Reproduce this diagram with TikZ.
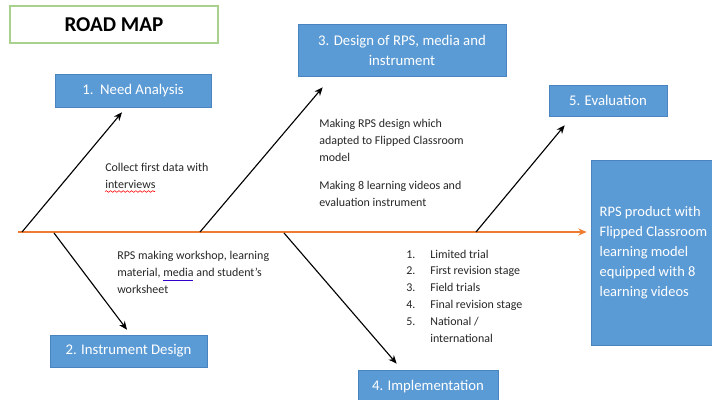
\documentclass[tikz,border=0pt]{standalone}
\usepackage{fontspec}
\setmainfont{Carlito}
\usetikzlibrary{positioning,calc,arrows.meta,decorations.pathmorphing}
\definecolor{boxblue}{HTML}{5B9BD5}
\definecolor{boxedge}{HTML}{4A84BF}
\definecolor{spineorange}{HTML}{ED7D31}
\definecolor{titlegreen}{HTML}{A9D18E}

\begin{document}
\begin{tikzpicture}[x=0.025cm, y=-0.025cm,
    stage/.style={draw=boxedge, line width=0.4pt, fill=boxblue, text=white,
      font=\fontsize{10.5}{14.2}\selectfont, align=center, inner sep=2pt},
    note/.style={anchor=north west, align=left, inner sep=0pt,
      font=\fontsize{8.5}{12}\selectfont, text=black!85},
    bone/.style={-{Stealth[length=6pt,width=5pt]}, line width=0.8pt}]
  \clip (0,0) rectangle (712,400);

  % --- title ---
  \node[draw=titlegreen, line width=1.2pt, minimum width=5.2cm, minimum height=0.925cm,
    font=\fontsize{15}{18}\selectfont\bfseries] (title) at (114,24.5) {ROAD MAP};

  % --- stages ---
  \node[stage, minimum width=3.9cm, minimum height=0.825cm] (need) at (133,90.5) {1.\ \ Need Analysis};
  \node[stage, minimum width=5.2cm, minimum height=1.3cm] (design) at (402,50) {3. Design of RPS, media and\\instrument};
  \node[stage, minimum width=2.95cm, minimum height=0.775cm] (eval) at (608,100.5) {5. Evaluation};
  \node[stage, minimum width=3.925cm, minimum height=0.8cm] (instr) at (128.5,351) {2. Instrument Design};
  \node[stage, minimum width=3.5cm, minimum height=0.85cm] (impl) at (428,387) {4. Implementation};
  \node[stage, minimum width=3.125cm, minimum height=4.625cm, align=left,
    font=\fontsize{10.3}{14.2}\selectfont] (product) at (653.5,252.5)
    {RPS product with\\Flipped Classroom\\learning model\\equipped with 8\\learning videos};

  % --- main line ---
  \coordinate (spine) at (18,232);
  \draw[spineorange, line width=1.2pt, -{Stealth[length=6pt,width=5pt]}, shorten >=0.1cm]
    (spine) -- (spine -| product.west);

  % points on the line
  \coordinate (s1) at (22,232);
  \coordinate (s2) at (200,232);
  \coordinate (s3) at (476,232);
  \coordinate (s4) at (54,233);
  \coordinate (s5) at (284,233);

  % --- branches ---
  \draw[bone] (s1) -- ($(need.south)+(-11,5)$);
  \draw[bone] (s2) -- ($(design.south west)+(25,11)$);
  \draw[bone] (s3) -- ($(eval.south west)+(16,9)$);
  \draw[bone] (s4) -- ($(instr.north)+(-1.5,-5)$);
  \draw[bone] (s5) -- ($(impl.north west)+(39,-6)$);

  % --- notes ---
  \node[note] (n1) at (105,163) {Collect first data with\\interviews};
  \node[note] (n3) at (319,119) {Making RPS design which\\adapted to Flipped Classroom\\model\\[8pt]Making 8 learning videos and\\evaluation instrument};
  \node[note] (n2) at (117,251) {RPS making workshop, learning\\material, media and student's\\worksheet};
  \node[note] (n4) at (406,246) {\begin{tabular}{@{}p{0.6cm}@{}l@{}}
    1. & Limited trial\\
    2. & First revision stage\\
    3. & Field trials\\
    4. & Final revision stage\\
    5. & National /\\
       & international
  \end{tabular}};

  % spelling marks
  \draw[red, line width=0.4pt, decorate, decoration={snake, amplitude=0.6pt, segment length=3pt}]
    (105,191.5) -- (155,191.5);
  \draw[blue!60!violet, line width=0.5pt] (163,280.5) -- (193,280.5);
\end{tikzpicture}
\end{document}
